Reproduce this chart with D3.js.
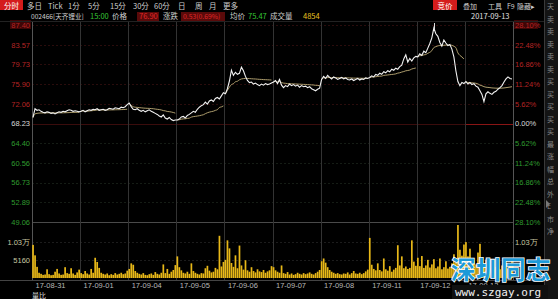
<!DOCTYPE html>
<html>
<head>
<meta charset="utf-8">
<script src="https://cdn.jsdelivr.net/npm/d3@7"></script>
<style>
  body { margin: 0; background: #000; overflow: hidden; }
  svg { display: block; font-family: "Noto Sans CJK SC", "Liberation Sans", sans-serif; }
</style>
</head>
<body>
<div id="chart"></div>
<script>
"use strict";

// ---- data ----
const dayLabels = ["17-08-31", "17-09-01", "17-09-04", "17-09-05", "17-09-06",
  "17-09-07", "17-09-08", "17-09-11", "17-09-12", "17-09-13"];
const prevClose = 68.23;
const priceTicks = [87.40, 83.57, 79.73, 75.90, 72.06, 68.23, 64.40, 60.56, 56.73, 52.89, 49.06];
const pctTicks = ["28.10%", "22.48%", "16.86%", "11.24%", "5.62%", "0.00%",
  "5.62%", "11.24%", "16.86%", "22.48%", "28.10%"];
const volTicks = [10300, 5160];
const volTickLabels = ["1.03万", "5160"];
const perDay = 24; // one point per 10 minutes

// price, 24 points per day
const priceData = [
  69.4, 71.1, 70.8, 70.9, 70.6, 70.4, 70.3, 70.5, 70.4, 70.2, 70.3, 70.1, 70.3, 70.5, 70.4, 70.6, 70.5, 70.7, 70.9, 70.8, 70.6, 70.7, 70.6, 70.5, // 08-31
  70.6, 70.8, 70.5, 70.7, 70.9, 70.8, 71.0, 70.9, 71.1, 70.8, 70.9, 71.0, 70.8, 70.9, 71.2, 71.1, 71.0, 71.3, 71.2, 71.1, 71.4, 71.3, 71.5, 71.9, // 09-01
  72.2, 71.5, 71.0, 70.9, 71.1, 70.8, 70.6, 70.8, 70.5, 70.7, 70.9, 70.6, 70.4, 70.2, 70.0, 69.7, 69.5, 69.9, 69.3, 69.1, 69.4, 69.0, 68.8, 68.9, // 09-04
  68.9, 69.1, 69.5, 69.6, 69.3, 69.8, 70.0, 70.3, 70.6, 70.4, 71.0, 71.4, 71.7, 71.9, 72.4, 72.0, 72.6, 72.8, 72.5, 73.1, 73.3, 73.0, 73.6, 74.2, // 09-05
  74.0, 75.0, 76.5, 78.6, 77.6, 78.2, 77.8, 78.0, 79.2, 78.5, 77.4, 76.6, 76.2, 76.3, 75.9, 76.1, 75.8, 75.6, 75.9, 75.7, 76.0, 75.8, 75.9, 76.1, // 09-06
  76.3, 76.6, 76.0, 76.8, 75.7, 75.2, 75.6, 75.4, 75.9, 75.6, 75.8, 75.5, 75.7, 75.3, 75.6, 75.4, 75.5, 75.2, 75.4, 75.0, 74.8, 74.6, 74.9, 75.1, // 09-07
  76.8, 77.4, 77.0, 77.6, 77.2, 76.9, 77.3, 77.1, 76.8, 77.0, 77.2, 76.9, 77.1, 76.8, 76.7, 76.9, 76.6, 76.8, 77.0, 76.7, 76.9, 76.8, 77.1, 77.0, // 09-08
  77.2, 77.5, 77.3, 77.8, 77.6, 78.0, 77.8, 78.3, 78.1, 78.5, 78.3, 78.8, 78.6, 79.0, 78.8, 79.3, 79.6, 80.8, 81.6, 80.2, 80.9, 80.4, 81.0, 81.3, // 09-11
  81.2, 81.8, 81.5, 82.3, 82.0, 82.9, 83.8, 84.9, 86.8, 85.7, 85.2, 84.0, 83.3, 84.5, 83.9, 83.4, 83.6, 82.7, 81.2, 78.5, 76.4, 75.6, 76.2, 76.0, // 09-12
  76.4, 75.9, 76.2, 75.8, 76.0, 75.5, 75.3, 74.6, 73.9, 72.5, 74.0, 74.4, 74.1, 73.9, 74.3, 74.5, 74.9, 75.2, 75.6, 76.3, 76.9, 77.3, 77.0, 76.9  // 09-13
];

// volume (shares), 24 per day
const volumeData = [
  9500, 6500, 3200, 1500, 1200, 900, 1000, 2500, 1100, 800, 900, 1800, 2600, 1300, 900, 1000, 3100, 1400, 1200, 2800, 1300, 900, 1600, 2400,
  1400, 1100, 2000, 1300, 1000, 2600, 1500, 5800, 4600, 2900, 1500, 1200, 1000, 1300, 800, 1100, 900, 1400, 1000, 1200, 1500, 1100, 1300, 2100,
  2600, 4200, 3800, 2000, 1500, 1200, 1000, 1400, 900, 800, 1100, 1300, 900, 1700, 1200, 1000, 1500, 3900, 1400, 2600, 1200, 1800, 2300, 3700,
  6200, 3100, 2200, 1500, 1300, 1800, 1200, 4200, 2000, 1500, 1200, 1000, 1400, 1300, 2800, 3500, 2100, 1600, 1800, 2900, 2500, 12100, 3300, 4600,
  5200, 10800, 8500, 4300, 3200, 6500, 2800, 9300, 3600, 2400, 5100, 2200, 1800, 3100, 2000, 1600, 2500, 1900, 1700, 2300, 1500, 1900, 2200, 3400,
  3100, 2200, 1800, 1500, 3600, 1400, 1200, 1700, 1000, 1300, 900, 1100, 1500, 1200, 1000, 1400, 1100, 1300, 1600, 1200, 1000, 1400, 1800, 2300,
  4800, 5600, 4400, 3100, 2300, 1800, 1500, 1200, 1400, 1100, 1000, 1300, 1200, 1600, 1000, 1400, 2000, 1300, 1200, 1500, 1100, 1400, 1900, 2400,
  11500, 3800, 2600, 2200, 4200, 2300, 1900, 5600, 2500, 2100, 3400, 1800, 2400, 2900, 9400, 3600, 6200, 2800, 3300, 2600, 2900, 10800, 4700, 3500,
  5800, 3400, 6300, 2900, 3600, 5200, 3000, 3900, 5400, 2800, 3300, 5600, 2500, 3100, 4800, 2700, 3200, 4200, 6800, 4500, 15200, 8100, 6400, 9600,
  10300, 6200, 8400, 4700, 5100, 3900, 7300, 9800, 4200, 3600, 5300, 3100, 2800, 3400, 2600, 3200, 2900, 2500, 3600, 2400, 3100, 2700, 3800, 4854
];

const menuLeft = ["多日", "Tick", "1分", "5分", "15分", "30分", "60分", "日", "周", "月", "更多"];
const menuLeftX = [27, 48, 68, 88, 110, 133, 154, 178, 195, 209, 223];
const menuRight = ["叠加", "工具", "F9", "隐藏▸"];
const menuRightX = [463, 488, 507, 517];

// ---- layout ----
const W = 558, H = 299;
const left = 32, right = 513;
const priceTop = 25, priceBottom = 222;
const volTop = 225, volBottom = 278;

const svg = d3.select("#chart").append("svg")
  .attr("width", W).attr("height", H);

svg.append("rect").attr("width", W).attr("height", H).attr("fill", "#000");

const nPts = priceData.length;
const x = d3.scaleLinear().domain([0, nPts]).range([left, right]);
const yP = d3.scaleLinear().domain([49.06, 87.40]).range([priceBottom, priceTop]);
const yV = d3.scaleLinear().domain([0, 15200]).range([volBottom, volTop]);

// horizontal grid
svg.append("g").selectAll("line").data(priceTicks).join("line")
  .attr("x1", left).attr("x2", right)
  .attr("y1", d => Math.round(yP(d)) + 0.5).attr("y2", d => Math.round(yP(d)) + 0.5)
  .attr("stroke", (d, i) => i === priceTicks.length - 1 ? "#4a4a4a" : (d > prevClose ? "#2a0c0c" : "#151c15"))
  .attr("stroke-dasharray", (d, i) => i === priceTicks.length - 1 ? null : "2,2");

// prev close line
svg.append("line")
  .attr("x1", left).attr("x2", right)
  .attr("y1", Math.round(yP(prevClose)) + 0.5).attr("y2", Math.round(yP(prevClose)) + 0.5)
  .attr("stroke", "#3a0c0c");
svg.append("line")
  .attr("x1", x(9 * perDay)).attr("x2", right)
  .attr("y1", Math.round(yP(prevClose)) + 0.5).attr("y2", Math.round(yP(prevClose)) + 0.5)
  .attr("stroke", "#8a1515");

// volume grid
svg.append("g").selectAll("line").data(volTicks).join("line")
  .attr("x1", left).attr("x2", right)
  .attr("y1", d => Math.round(yV(d)) + 0.5).attr("y2", d => Math.round(yV(d)) + 0.5)
  .attr("stroke", "#1c1c1c").attr("stroke-dasharray", "2,2");

// day separators
const dayStarts = d3.range(0, nPts + 1, perDay);
svg.append("g").selectAll("line").data(dayStarts).join("line")
  .attr("x1", d => Math.round(x(d)) + 0.5).attr("x2", d => Math.round(x(d)) + 0.5)
  .attr("y1", 22).attr("y2", 281)
  .attr("stroke", (d, i) => (i === 0 || i === dayStarts.length - 1) ? "#555" : "#333");

// frame lines
svg.append("line").attr("x1", 0).attr("x2", 544).attr("y1", 280.5).attr("y2", 280.5).attr("stroke", "#444");
svg.append("line").attr("x1", 0).attr("x2", 544).attr("y1", 21.5).attr("y2", 21.5).attr("stroke", "#222");

// volume bars
const bw = x(1) - x(0);
svg.append("g").selectAll("rect").data(volumeData).join("rect")
  .attr("x", (d, i) => x(i) + 0.2)
  .attr("width", bw - 0.3)
  .attr("y", d => yV(d))
  .attr("height", d => volBottom - yV(d))
  .attr("fill", "#e8b818");

// average price line, per day (running volume-weighted)
const avgSegments = d3.range(dayLabels.length).map(day => {
  let pv = 0, vs = 0;
  return d3.range(perDay).map(i => {
    const k = day * perDay + i;
    pv += priceData[k] * volumeData[k];
    vs += volumeData[k];
    return [k, pv / vs];
  });
});
const avgLine = d3.line().x(d => x(d[0] + 0.5)).y(d => yP(d[1])).curve(d3.curveMonotoneX);
svg.append("g").selectAll("path").data(avgSegments).join("path")
  .attr("d", avgLine)
  .attr("fill", "none").attr("stroke", "#bfae78").attr("stroke-width", 0.9);

// price line
const priceLine = d3.line().x((d, i) => x(i + 0.5)).y(d => yP(d));
svg.append("path")
  .attr("d", priceLine(priceData))
  .attr("fill", "none").attr("stroke", "#f2f2f2").attr("stroke-width", 1.1);

// left price axis
const leftAxis = svg.append("g")
  .attr("transform", `translate(${left - 2},0)`)
  .call(d3.axisLeft(yP).tickValues(priceTicks).tickFormat(d3.format(".2f")).tickSize(0).tickPadding(0));
leftAxis.select(".domain").remove();
leftAxis.selectAll("text")
  .attr("font-size", 7.5)
  .attr("fill", d => d > prevClose + 0.01 ? "#b52424" : (d < prevClose - 0.01 ? "#2f9a2f" : "#d8d8d8"));

// right percent axis
const rightAxis = svg.append("g")
  .attr("transform", `translate(${right + 2},0)`)
  .call(d3.axisRight(yP).tickValues(priceTicks).tickFormat((d, i) => pctTicks[i]).tickSize(0).tickPadding(0));
rightAxis.select(".domain").remove();
rightAxis.selectAll("text")
  .attr("font-size", 7.5)
  .attr("fill", d => d > prevClose + 0.01 ? "#b52424" : (d < prevClose - 0.01 ? "#2f9a2f" : "#d8d8d8"));

// highlight boxes on top labels
svg.insert("rect", "g")
  .attr("x", 10).attr("y", yP(87.40) - 5).attr("width", 21).attr("height", 9).attr("fill", "#3e0606");
svg.insert("rect", "g")
  .attr("x", right + 1).attr("y", yP(87.40) - 5).attr("width", 24).attr("height", 9).attr("fill", "#3e0606");

// volume axes
[[d3.axisLeft, left - 2], [d3.axisRight, right + 2]].forEach(([fn, tx], j) => {
  const g = svg.append("g")
    .attr("transform", `translate(${tx},0)`)
    .call(fn(yV).tickValues(j === 0 ? volTicks : [volTicks[0]])
      .tickFormat((d, i) => volTickLabels[i]).tickSize(0).tickPadding(0));
  g.select(".domain").remove();
  g.selectAll("text").attr("font-size", 7.5).attr("fill", "#c8c8a0");
});

// bottom date axis
const bottomAxis = svg.append("g")
  .attr("transform", `translate(0,283)`)
  .call(d3.axisBottom(x).tickValues(dayStarts.slice(0, dayLabels.length))
    .tickFormat((d, i) => dayLabels[i]).tickSize(0).tickPadding(0));
bottomAxis.select(".domain").remove();
bottomAxis.selectAll("text")
  .attr("font-size", 7.5).attr("fill", "#b8b8b8")
  .attr("text-anchor", "start").attr("dx", 3);

svg.append("text").attr("x", 32).attr("y", 298).attr("font-size", 7)
  .attr("fill", "#ddd").text("量比");

// menu row
svg.append("rect").attr("x", 0).attr("y", 0).attr("width", 23).attr("height", 10).attr("fill", "#d41c1c");
svg.append("text").attr("x", 4).attr("y", 8.5).attr("font-size", 7.5).attr("fill", "#fff").text("分时");
svg.append("g").selectAll("text").data(menuLeft).join("text")
  .attr("x", (d, i) => menuLeftX[i]).attr("y", 8.5)
  .attr("font-size", 7.5).attr("fill", "#cfcfcf").text(d => d);
svg.append("rect").attr("x", 433).attr("y", 0).attr("width", 24).attr("height", 10).attr("fill", "#d41c1c");
svg.append("text").attr("x", 437.5).attr("y", 8.5).attr("font-size", 7.5).attr("fill", "#fff").text("竞价");
svg.append("g").selectAll("text").data(menuRight).join("text")
  .attr("x", (d, i) => menuRightX[i]).attr("y", 8.5)
  .attr("font-size", 7).attr("fill", "#cfcfcf").text(d => d);

// info row
const info = svg.append("g").attr("font-size", 7.5);
info.append("text").attr("x", 31).attr("y", 19).attr("fill", "#cfcfcf")
  .attr("font-size", 6.6).text("002466[天齐锂业]");
info.append("text").attr("x", 90).attr("y", 19).attr("fill", "#35c435").text("15:00");
info.append("text").attr("x", 112).attr("y", 19).attr("fill", "#cfcfcf").text("价格");
info.append("rect").attr("x", 137).attr("y", 12).attr("width", 22).attr("height", 9).attr("fill", "#5a0a0a");
info.append("text").attr("x", 139).attr("y", 19).attr("fill", "#e02828").text("76.90");
info.append("text").attr("x", 163).attr("y", 19).attr("fill", "#cfcfcf").text("涨跌");
info.append("rect").attr("x", 181).attr("y", 12).attr("width", 44).attr("height", 9).attr("fill", "#5a0a0a");
info.append("text").attr("x", 183).attr("y", 19).attr("fill", "#e02828").attr("font-size", 6.8).text("0.53(0.69%)");
info.append("text").attr("x", 230).attr("y", 19).attr("fill", "#cfcfcf").text("均价");
info.append("text").attr("x", 248).attr("y", 19).attr("fill", "#35c435").text("75.47");
info.append("text").attr("x", 270).attr("y", 19).attr("fill", "#cfcfcf").text("成交量");
info.append("text").attr("x", 303).attr("y", 19).attr("fill", "#e8c020").text("4854");
info.append("text").attr("x", 471).attr("y", 19).attr("fill", "#e0e0e0").text("2017-09-13");

// peak marker
svg.append("line").attr("x1", 434.5).attr("x2", 434.5).attr("y1", 23).attr("y2", 29).attr("stroke", "#ddd");

// right side panel
svg.append("rect").attr("x", 544).attr("y", 0).attr("width", 14).attr("height", H).attr("fill", "#141414");
svg.append("line").attr("x1", 544.5).attr("x2", 544.5).attr("y1", 0).attr("y2", H).attr("stroke", "#3a3a3a");
const sideChars = ["天", "卖", "卖", "卖", "卖", "卖", "买", "买", "买", "买", "买", "最", "涨", "幅", "总", "外", "E", "市", "净"];
svg.append("g").selectAll("text").data(sideChars).join("text")
  .attr("x", 547).attr("y", (d, i) => 9 + i * 12.5)
  .attr("font-size", 7).attr("fill", "#8a8a8a").text(d => d);
svg.append("path").attr("d", "M546,200 L550,204 L546,208 Z").attr("fill", "#777");

// watermark (covers the last date label, as in the source)
svg.append("text").attr("x", 451).attr("y", 279)
  .attr("font-size", 24.5).attr("font-weight", "bold")
  .attr("fill", "#1c9ad8").attr("stroke", "#ffffff").attr("stroke-width", 1.6)
  .attr("paint-order", "stroke").attr("letter-spacing", 0.5)
  .text("深圳同志");
svg.append("rect").attr("x", 452).attr("y", 285).attr("width", 96).attr("height", 14).attr("fill", "#101010");
svg.append("text").attr("x", 455).attr("y", 295.5)
  .attr("font-size", 11).attr("font-family", "DejaVu Sans Mono, monospace")
  .attr("fill", "#f0f0f0").text("www.szgay.org");
</script>
</body>
</html>
